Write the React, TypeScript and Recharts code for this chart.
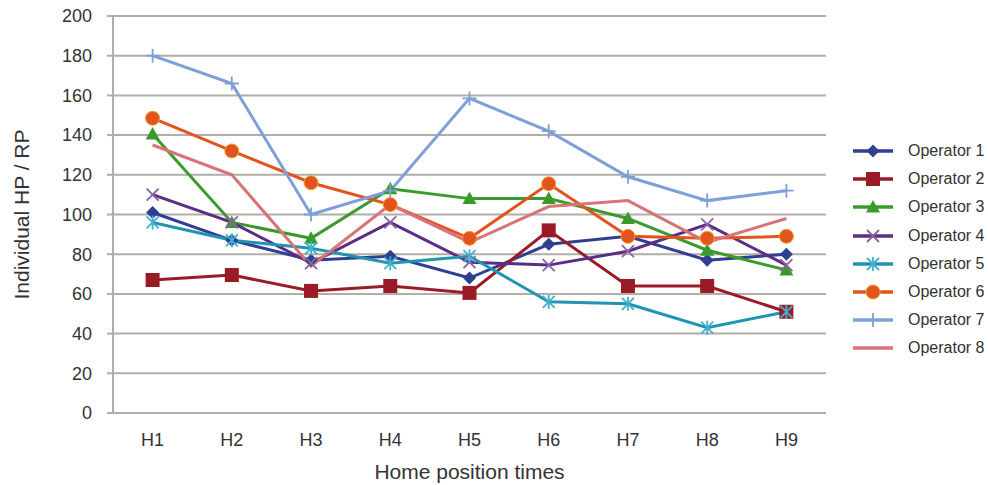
import React from "react";
import { LineChart, Line, XAxis, YAxis, CartesianGrid } from "recharts";

const categories = ["H1", "H2", "H3", "H4", "H5", "H6", "H7", "H8", "H9"];
const yTicks = [0, 20, 40, 60, 80, 100, 120, 140, 160, 180, 200];

const operator1 = [101, 87, 77, 79, 68, 85, 89, 77, 80];
const operator2 = [67, 69.5, 61.5, 64, 60.5, 92, 64, 64, 51];
const operator3 = [140.5, 96, 88, 113, 108, 108, 98, 82, 72];
const operator4 = [110, 96, 75.5, 96, 76, 74.5, 81.5, 95, 74.5];
const operator5 = [96, 87, 83, 75.5, 79, 56, 55, 43, 51];
const operator6 = [148.5, 132, 116, 105, 88, 115.5, 89, 88, 89];
const operator7 = [180, 166, 100, 112, 158.5, 142, 119, 107, 112];
const operator8 = [135, 120, 74, 105, 86, 104, 107, 86, 98];

type Shape = "diamond" | "square" | "triangle" | "x" | "star" | "circle" | "plus" | "none";

const series: { name: string; values: number[]; color: string; shape: Shape }[] = [
  { name: "Operator 1", values: operator1, color: "#2f3f92", shape: "diamond" },
  { name: "Operator 2", values: operator2, color: "#9a1b26", shape: "square" },
  { name: "Operator 3", values: operator3, color: "#3a9b2c", shape: "triangle" },
  { name: "Operator 4", values: operator4, color: "#5b2d84", shape: "x" },
  { name: "Operator 5", values: operator5, color: "#2094b2", shape: "star" },
  { name: "Operator 6", values: operator6, color: "#e2541d", shape: "circle" },
  { name: "Operator 7", values: operator7, color: "#7f9fd8", shape: "plus" },
  { name: "Operator 8", values: operator8, color: "#d8737a", shape: "none" },
];

const data = categories.map((c, i) => {
  const row: any = { name: c };
  series.forEach((s) => (row[s.name] = s.values[i]));
  return row;
});

const FONT = "'Liberation Sans', Arial, sans-serif";
const TEXT = "#333";
const GRID = "#b1ada7";

// excel-ish markers
function marker(shape: Shape, color: string, cx: number, cy: number, key?: any) {
  switch (shape) {
    case "diamond":
      return <path key={key} d={`M${cx},${cy - 6.5}L${cx + 6.5},${cy}L${cx},${cy + 6.5}L${cx - 6.5},${cy}Z`} fill={color} />;
    case "square":
      return <rect key={key} x={cx - 7} y={cy - 7} width={14} height={14} fill={color} />;
    case "triangle":
      return <path key={key} d={`M${cx},${cy - 7}L${cx + 7},${cy + 5.5}L${cx - 7},${cy + 5.5}Z`} fill={color} />;
    case "x":
      return (
        <path key={key} d={`M${cx - 6},${cy - 6}L${cx + 6},${cy + 6}M${cx - 6},${cy + 6}L${cx + 6},${cy - 6}`} stroke="#8a62a8" strokeWidth={1.8} fill="none" />
      );
    case "star":
      return (
        <path
          key={key}
          d={`M${cx - 6},${cy - 6}L${cx + 6},${cy + 6}M${cx - 6},${cy + 6}L${cx + 6},${cy - 6}M${cx},${cy - 7}L${cx},${cy + 7}`}
          stroke="#3fb1cf"
          strokeWidth={1.8}
          fill="none"
        />
      );
    case "circle":
      return <circle key={key} cx={cx} cy={cy} r={7} fill={color} stroke="#f0a030" strokeWidth={1} />;
    case "plus":
      return (
        <path key={key} d={`M${cx - 7},${cy}L${cx + 7},${cy}M${cx},${cy - 7}L${cx},${cy + 7}`} stroke={color} strokeWidth={1.8} fill="none" />
      );
    default:
      return <g key={key} />;
  }
}

function Legend() {
  return (
    <div style={{ position: "absolute", left: 853, top: 137, fontFamily: FONT, fontSize: 16, color: TEXT }}>
      {series.map((s) => (
        <div key={s.name} style={{ display: "flex", alignItems: "center", height: 28.2 }}>
          <svg width={40} height={20} style={{ marginRight: 15 }}>
            <line x1={0} y1={10} x2={40} y2={10} stroke={s.color} strokeWidth={3.5} />
            {marker(s.shape, s.color, 20, 10)}
          </svg>
          <span>{s.name}</span>
        </div>
      ))}
    </div>
  );
}

export default function App() {
  return (
    <div style={{ position: "absolute", left: 0, top: 0, width: 988, height: 485, background: "#fff" }}>
      <LineChart width={988} height={485} data={data} margin={{ top: 16, right: 162, bottom: 0, left: 0 }}>
        <CartesianGrid vertical={false} stroke={GRID} strokeWidth={2} />
        <XAxis
          dataKey="name"
          padding={{ left: 39.6, right: 39.6 }}
          height={72}
          tickLine={false}
          axisLine={{ stroke: GRID, strokeWidth: 2 }}
          tickMargin={14}
          tick={{ fill: TEXT, fontSize: 18, fontFamily: FONT }}
          label={{ value: "Home position times", position: "insideBottom", offset: 6, fill: TEXT, fontSize: 21, fontFamily: FONT }}
        />
        <YAxis
          domain={[0, 200]}
          ticks={yTicks}
          interval={0}
          width={113}
          tickSize={6}
          tickMargin={15}
          axisLine={{ stroke: GRID, strokeWidth: 2 }}
          tickLine={{ stroke: GRID, strokeWidth: 2 }}
          tick={{ fill: TEXT, fontSize: 18, fontFamily: FONT }}
          label={{ value: "Individual HP / RP", angle: -90, position: "insideLeft", offset: 22, fill: TEXT, fontSize: 21, fontFamily: FONT, style: { textAnchor: "middle" } }}
        />
        {series.map((s) => (
          <Line
            key={s.name}
            dataKey={s.name}
            stroke={s.color}
            strokeWidth={3}
            isAnimationActive={false}
            dot={(p: any) => marker(s.shape, s.color, p.cx, p.cy, `${s.name}-${p.index}`)}
            activeDot={false}
          />
        ))}
      </LineChart>
      <Legend />
    </div>
  );
}
